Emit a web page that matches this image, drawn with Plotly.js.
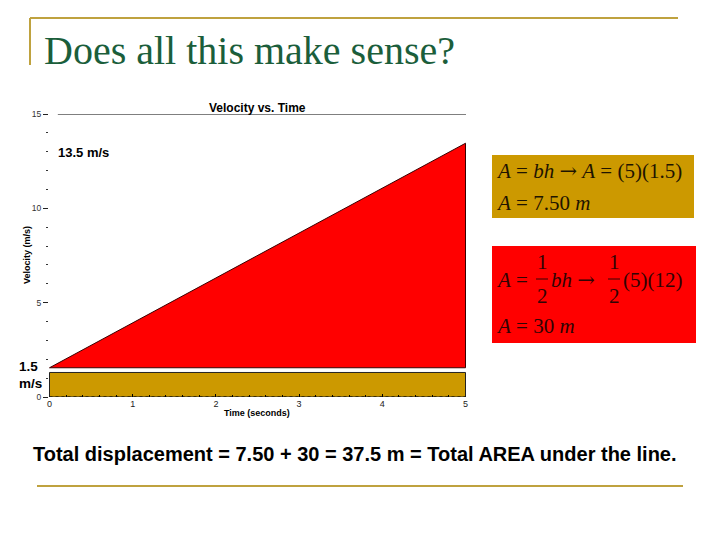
<!DOCTYPE html>
<html>
<head>
<meta charset="utf-8">
<script src="https://cdn.plot.ly/plotly-3.0.1.min.js"></script>
<style>html,body{margin:0;padding:0;background:#fff;}#chart{width:720px;height:540px;}</style>
</head>
<body>
<div id="chart"></div>
<script>
// ---- data ----
const time = [0, 5];                 // seconds
const velocity = [1.55, 13.45];      // m/s, the velocity line as drawn
const triangleBase = [1.55, 1.55];   // bottom edge of the red triangle
const rectTop = [1.3, 1.3];          // top edge of the gold rectangle (as drawn)
const xTicks = [0, 1, 2, 3, 4, 5];
const yTicks = [0, 5, 10, 15];
const topVelocityLabel = "13.5 m/s";
const startVelocityLabel = ["1.5", "m/s"];

// plot area in pixels
const L = 49, R = 466, T = 114, B = 397;
const px = p => (p - L) / (R - L);
const py = p => (B - p) / (B - T);

const red = {
  x: [time[0], time[1], time[1], time[0]],
  y: [velocity[0], velocity[1], triangleBase[1], triangleBase[0]],
  fill: 'toself', fillcolor: '#ff0000', mode: 'lines',
  line: {color: '#3a0000', width: 1}, hoverinfo: 'skip', showlegend: false
};
const gold = {
  x: [time[0], time[1], time[1], time[0], time[0]],
  y: [0, 0, rectTop[1], rectTop[0], 0],
  fill: 'toself', fillcolor: '#cc9900', mode: 'lines',
  line: {color: '#222', width: 1}, hoverinfo: 'skip', showlegend: false
};

const serif = 'Liberation Serif, Times New Roman, serif';
const sans = 'Liberation Sans, Arial, sans-serif';
const arrow = '<span style="font-family:DejaVu Serif">→</span>';

const ann = [];
function A(text, x, y, opts) {
  ann.push(Object.assign({text: text, xref: 'paper', yref: 'paper', x: px(x), y: py(y),
    showarrow: false, xanchor: 'left', yanchor: 'middle'}, opts || {}));
}
// slide title
A('Does all this make sense?', 42, 51, {font: {family: serif, size: 40, color: '#1b5e3b'}});
// chart title
A('<b>Velocity vs. Time</b>', 257, 108, {xanchor: 'center', font: {family: sans, size: 12, color: '#000'}});
// axis titles
A('<b>Time (seconds)</b>', 257, 413, {xanchor: 'center', font: {family: sans, size: 9, color: '#000'}});
A('<b>Velocity (m/s)</b>', 27, 255, {xanchor: 'center', textangle: -90, font: {family: sans, size: 9, color: '#000'}});
// velocity labels
A('<b>' + topVelocityLabel + '</b>', 56, 152, {font: {family: sans, size: 13, color: '#000'}});
A('<b>' + startVelocityLabel[0] + '</b>', 17, 366, {font: {family: sans, size: 13.5, color: '#000'}});
A('<b>' + startVelocityLabel[1] + '</b>', 17, 383, {font: {family: sans, size: 13.5, color: '#000'}});
// gold box equations
const goldTxt = '#1e1400';
A('<i>A</i> = <i>bh</i> ' + arrow + ' <i>A</i> = (5)(1.5)', 494, 171, {font: {family: serif, size: 21, color: goldTxt}});
A('<i>A</i> = 7.50 <i>m</i>', 494, 203, {font: {family: serif, size: 21, color: goldTxt}});
// red box equations
const redTxt = '#300404';
A('<i>A</i> =', 494, 280, {font: {family: serif, size: 21, color: redTxt}});
A('1', 542, 262, {xanchor: 'center', font: {family: serif, size: 21, color: redTxt}});
A('2', 542, 296, {xanchor: 'center', font: {family: serif, size: 21, color: redTxt}});
A('<i>bh</i> ' + arrow, 549, 280, {font: {family: serif, size: 21, color: redTxt}});
A('1', 614, 262, {xanchor: 'center', font: {family: serif, size: 21, color: redTxt}});
A('2', 614, 296, {xanchor: 'center', font: {family: serif, size: 21, color: redTxt}});
A('(5)(12)', 621, 280, {font: {family: serif, size: 21, color: redTxt}});
A('<i>A</i> = 30 <i>m</i>', 494, 326, {font: {family: serif, size: 21, color: redTxt}});
// bottom sentence
A('<b>Total displacement = 7.50 + 30 = 37.5 m = Total AREA under the line.</b>', 355, 454,
  {xanchor: 'center', font: {family: sans, size: 20, color: '#000'}});

const shapes = [];
function S(o) { shapes.push(Object.assign({xref: 'paper', yref: 'paper', layer: 'below'}, o)); }
const slideGold = '#bfa23f';
// slide decorations
S({type: 'line', x0: px(30), x1: px(678), y0: py(18), y1: py(18), line: {color: slideGold, width: 2}});
S({type: 'line', x0: px(30), x1: px(30), y0: py(18), y1: py(65), line: {color: slideGold, width: 2}});
S({type: 'line', x0: px(37), x1: px(683), y0: py(486), y1: py(486), line: {color: slideGold, width: 2}});
// equation boxes
S({type: 'rect', x0: px(492), x1: px(694), y0: py(155), y1: py(218), fillcolor: '#cc9900', line: {width: 0}});
S({type: 'rect', x0: px(492), x1: px(696), y0: py(246), y1: py(343), fillcolor: '#ff0000', line: {width: 0}});
// fraction bars
S({type: 'line', x0: px(536), x1: px(548), y0: py(279), y1: py(279), layer: 'above', line: {color: redTxt, width: 1}});
S({type: 'line', x0: px(608), x1: px(620), y0: py(279), y1: py(279), layer: 'above', line: {color: redTxt, width: 1}});
// chart top line at 15 and dotted baseline
shapes.push({type: 'line', xref: 'x', yref: 'y', x0: 0.1, x1: 5.01, y0: 15, y1: 15, line: {color: '#000', width: 1.2}});
shapes.push({type: 'line', xref: 'x', yref: 'y', x0: 0, x1: 5, y0: 0, y1: 0, line: {color: '#000', width: 1, dash: 'dot'}});

const layout = {
  width: 720, height: 540,
  margin: {l: L, r: 720 - R, t: T, b: 540 - B, pad: 0},
  paper_bgcolor: '#fff', plot_bgcolor: '#fff',
  showlegend: false,
  xaxis: {range: [-0.006, 5.006], tickvals: xTicks, ticktext: xTicks.map(String),
    ticks: 'inside', ticklen: 3, tickcolor: '#000', showgrid: false, zeroline: false, showline: false,
    minor: {dtick: 0.2, ticks: 'inside', ticklen: 2, tickcolor: '#000', showgrid: false},
    tickfont: {family: sans, size: 9, color: '#222'}, fixedrange: true},
  yaxis: {range: [0, 15], tickvals: yTicks, ticktext: yTicks.map(String),
    ticks: 'outside', ticklen: 5, tickcolor: '#222', showgrid: false, zeroline: false, showline: false,
    minor: {dtick: 1, ticks: 'outside', ticklen: 2, tickcolor: '#333', showgrid: false},
    tickfont: {family: sans, size: 8.5, color: '#333'}, fixedrange: true},
  annotations: ann,
  shapes: shapes
};
Plotly.newPlot('chart', [gold, red], layout, {displayModeBar: false, staticPlot: true});
</script>
</body>
</html>
